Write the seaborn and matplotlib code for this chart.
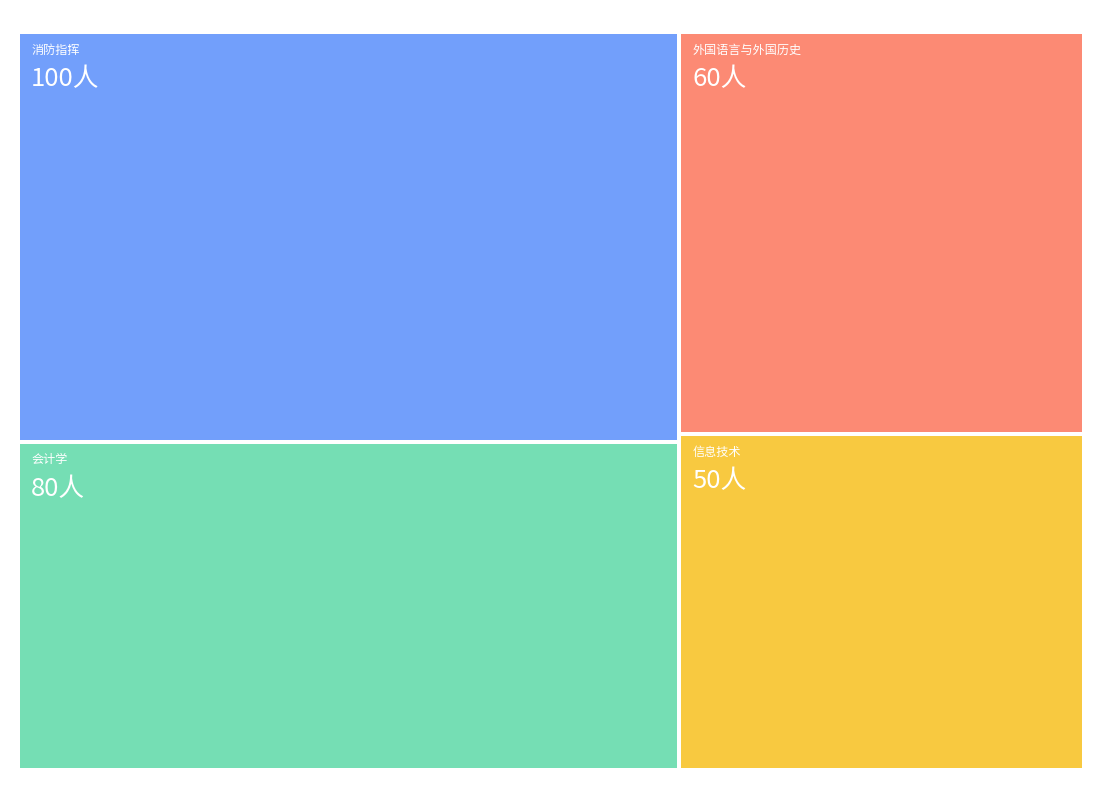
import matplotlib.pyplot as plt
import seaborn as sns
from matplotlib.patches import Rectangle

# 数据
majors = ['消防指挥', '会计学', '外国语言与外国历史', '信息技术']
counts = [100, 80, 60, 50]
columns = [[0, 1], [2, 3]]  # 左列 / 右列
colors = ['#729FFB', '#75DEB4', '#FC8A74', '#F8C940']

sns.set_theme(style='white')
plt.rcParams['font.family'] = ['Noto Sans CJK SC', 'DejaVu Sans']

W, H = 1062, 734  # 绘图区像素
gap = 2

fig = plt.figure(figsize=(11.02, 8.07), dpi=100)
ax = fig.add_axes([20 / 1102, 39 / 807, W / 1102, H / 807])
ax.set_xlim(0, W)
ax.set_ylim(H, 0)
ax.axis('off')

total = sum(counts)
x = 0
for col in columns:
    col_sum = sum(counts[i] for i in col)
    cw = W * col_sum / total
    y = 0
    for i in col:
        ch = H * counts[i] / col_sum
        x0 = x + (gap if x > 0 else 0)
        x1 = x + cw - (gap if x + cw < W - 0.5 else 0)
        y0 = y + (gap if y > 0 else 0)
        y1 = y + ch - (gap if y + ch < H - 0.5 else 0)
        ax.add_patch(Rectangle((x0, y0), x1 - x0, y1 - y0, facecolor=colors[i], edgecolor='none'))
        ax.text(x0 + 11, y0 + 16, majors[i], color='white', fontsize=8.7, va='center', ha='left')
        ax.text(x0 + 11, y0 + 45, '{}人'.format(counts[i]), color='white', fontsize=18.5,
                va='center', ha='left')
        y += ch
    x += cw

fig.savefig('out.png', dpi=100)
